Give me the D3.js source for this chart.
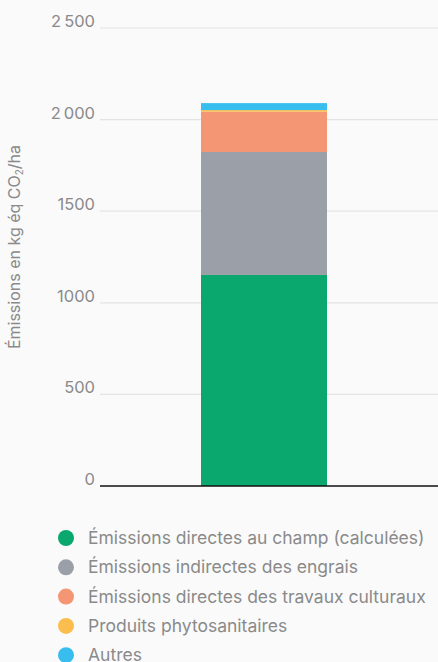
<!DOCTYPE html>
<html lang="fr">
<head>
    <meta charset="UTF-8">
    <title>Émissions en kg éq CO2/ha</title>
    <script src="https://d3js.org/d3.v7.min.js"></script>
    <style>
        body { margin: 0; background: #fafafa; }
        svg { display: block; font-family: Inter, "Open Sans", sans-serif; }
        .tick-label { fill: #8a8a8a; font-size: 16.5px; }
        .axis-title { fill: #8a8a8a; font-size: 16px; }
        .legend-label { fill: #8a8a8a; font-size: 17.5px; }
    </style>
</head>
<body>
    <svg width="438" height="662"></svg>
    <script>
        // Data
        const categories = ["Total"];
        const seriesNames = [
            "Émissions directes au champ (calculées)",
            "Émissions indirectes des engrais",
            "Émissions directes des travaux culturaux",
            "Produits phytosanitaires",
            "Autres"
        ];
        const seriesValues = [1152, 671, 220, 9, 38];
        const seriesColors = ["#0aa86f", "#9a9fa8", "#f49673", "#fbbd4e", "#37bdee"];
        const yTicks = [0, 500, 1000, 1500, 2000, 2500];
        const yTickLabels = ["0", "500", "1000", "1500", "2\u2009000", "2\u2009500"];

        const margin = { top: 28, right: 0, bottom: 176, left: 100 };
        const width = 438 - margin.left - margin.right;
        const height = 662 - margin.top - margin.bottom;

        const svg = d3.select("svg");
        const g = svg.append("g")
            .attr("transform", `translate(${margin.left},${margin.top})`);

        // band centred a little left of the plot middle, as in the original
        const x = d3.scaleBand()
            .domain(categories)
            .range([0, 328])
            .paddingInner(0.2)
            .paddingOuter(0.8);

        const y = d3.scaleLinear()
            .domain([0, 2500])
            .range([height, 0]);

        // Gridlines
        g.selectAll(".grid")
            .data(yTicks.filter(d => d > 0))
            .enter().append("line")
            .attr("x1", 0)
            .attr("x2", width)
            .attr("y1", d => y(d))
            .attr("y2", d => y(d))
            .attr("stroke", "#e4e4e4")
            .attr("stroke-width", 1.2);

        // Tick labels
        g.selectAll(".tick-label")
            .data(yTicks)
            .enter().append("text")
            .attr("class", "tick-label")
            .attr("x", -5)
            .attr("y", d => y(d) - 1)
            .attr("text-anchor", "end")
            .text((d, i) => yTickLabels[i]);

        // Stack
        const stackData = [{}];
        seriesNames.forEach((s, i) => stackData[0][s] = seriesValues[i]);
        const stacked = d3.stack().keys(seriesNames)(stackData);

        const bw = 126;
        g.selectAll(".bar")
            .data(stacked)
            .enter().append("rect")
            .attr("x", x(categories[0]) + (x.bandwidth() - bw) / 2)
            .attr("width", bw)
            .attr("y", d => y(d[0][1]))
            .attr("height", d => y(d[0][0]) - y(d[0][1]))
            .attr("fill", (d, i) => seriesColors[i]);

        // Baseline
        g.append("line")
            .attr("x1", 0)
            .attr("x2", width)
            .attr("y1", y(0))
            .attr("y2", y(0))
            .attr("stroke", "#111")
            .attr("stroke-width", 1.5);

        // Y axis title
        const title = svg.append("text")
            .attr("class", "axis-title")
            .attr("transform", `translate(20,247) rotate(-90)`)
            .attr("text-anchor", "middle");
        title.append("tspan").text("Émissions en kg éq CO");
        title.append("tspan").attr("font-size", "10px").attr("dy", 3).text("2");
        title.append("tspan").attr("dy", -3).text("/ha");

        // Legend
        const legend = svg.append("g").attr("transform", "translate(0,538)");
        const rows = legend.selectAll(".row")
            .data(seriesNames)
            .enter().append("g")
            .attr("transform", (d, i) => `translate(0,${i * 29.3})`);
        rows.append("circle")
            .attr("cx", 66)
            .attr("cy", 0)
            .attr("r", 8)
            .attr("fill", (d, i) => seriesColors[i]);
        rows.append("text")
            .attr("class", "legend-label")
            .attr("x", 88)
            .attr("y", 0)
            .attr("dy", "0.35em")
            .text(d => d);
    </script>
</body>
</html>
